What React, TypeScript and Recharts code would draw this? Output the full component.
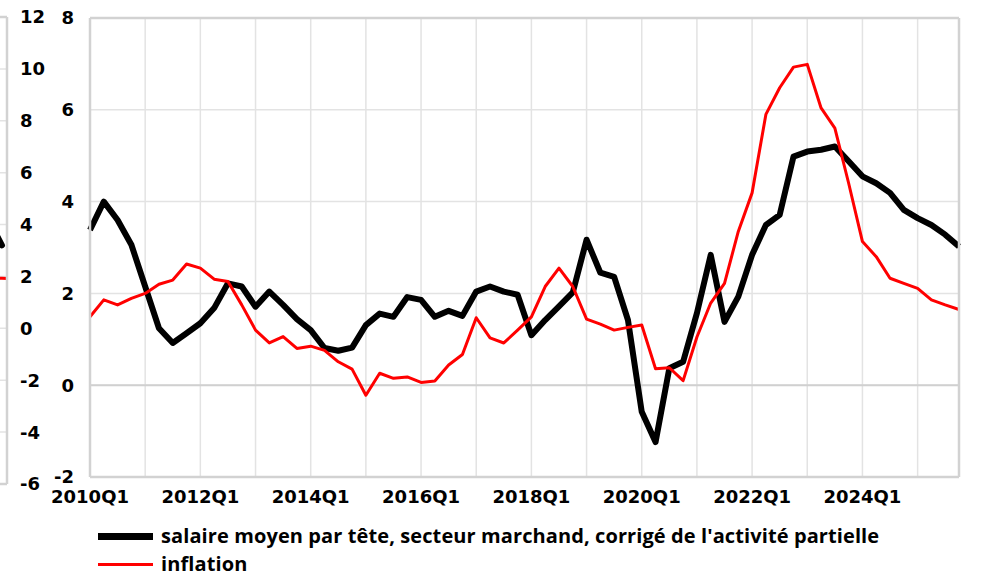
import { LineChart, Line, XAxis, YAxis, CartesianGrid, ReferenceLine } from 'recharts'

// quarters 2010Q1 .. 2025Q4
const quarters: string[] = []
for (let y = 2010; y <= 2025; y++) {
  for (let q = 1; q <= 4; q++) quarters.push(`${y}Q${q}`)
}

const salaire = [
  3.38, 4.0, 3.6, 3.06, 2.15, 1.24, 0.92, 1.13, 1.35, 1.68, 2.22, 2.15, 1.71, 2.04, 1.75, 1.44,
  1.2, 0.81, 0.75, 0.82, 1.31, 1.56, 1.49, 1.92, 1.86, 1.49, 1.62, 1.51, 2.04, 2.15, 2.04, 1.97,
  1.09, 1.42, 1.72, 2.02, 3.17, 2.45, 2.36, 1.42, -0.58, -1.24, 0.37, 0.51, 1.57, 2.84, 1.38, 1.93,
  2.84, 3.49, 3.71, 4.98, 5.09, 5.13, 5.2, 4.88, 4.55, 4.4, 4.19, 3.82, 3.64, 3.49, 3.28, 3.02,
]

const inflation = [
  1.49, 1.86, 1.75, 1.89, 2.0, 2.2, 2.29, 2.64, 2.55, 2.31, 2.26, 1.75, 1.2, 0.92, 1.06, 0.8,
  0.85, 0.76, 0.51, 0.35, -0.22, 0.26, 0.15, 0.18, 0.06, 0.09, 0.44, 0.67, 1.47, 1.03, 0.92, 1.2,
  1.49, 2.15, 2.55, 2.15, 1.44, 1.33, 1.2, 1.26, 1.31, 0.36, 0.38, 0.1, 1.05, 1.79, 2.22, 3.35,
  4.19, 5.9, 6.48, 6.93, 6.99, 6.04, 5.6, 4.4, 3.13, 2.8, 2.33, 2.22, 2.11, 1.86, 1.75, 1.65,
]

const yTicks = [-2, 0, 2, 4, 6, 8]

// tail of the neighbouring chart, cut at the left edge of the picture
const prevPos = [0, 0.5, 0.875, 1]
const prevSalaire = [5.0, 4.3, 3.2, null]
const prevInflation = [1.95, 1.94, 1.93, 1.92]
const prevTicks = [-6, -4, -2, 0, 2, 4, 6, 8, 10, 12]

const data = quarters.map((q, i) => ({ q, salaire: salaire[i], inflation: inflation[i] }))
const prevData = prevPos.map((t, i) => ({ t, b: prevSalaire[i], r: prevInflation[i] }))

const GRID = '#e3e3e3'
const BORDER = '#d2d2d2'
const tickStyle = { fontFamily: 'DejaVu Sans', fontWeight: 'bold', fontSize: 18, fill: '#000' }

const xLabel = (v: string) => {
  const year = parseInt(v.slice(0, 4), 10)
  return v.endsWith('Q1') && year % 2 === 0 ? v : ''
}

export default function App() {
  return (
    <div style={{ position: 'absolute', left: 0, top: 0, width: 994, height: 576, overflow: 'hidden', background: '#fff' }}>
      <div style={{ position: 'absolute', left: -33, top: 0 }}>
        <LineChart width={95} height={500} data={prevData} margin={{ top: 17, right: 0, left: 0, bottom: 16 }}>
          <CartesianGrid vertical={false} stroke={GRID} strokeWidth={1.5} />
          <XAxis type="number" dataKey="t" domain={[0, 1]} hide />
          <YAxis
            orientation="right"
            width={55}
            domain={[-6, 12]}
            ticks={prevTicks}
            interval={0}
            tickSize={0}
            tickMargin={13}
            tick={{ ...tickStyle, textAnchor: 'start' }}
            axisLine={{ stroke: BORDER, strokeWidth: 2.5 }}
          />
          <ReferenceLine y={12} stroke={BORDER} strokeWidth={2.5} />
          <ReferenceLine y={-6} stroke={BORDER} strokeWidth={2.5} />
          <Line dataKey="r" stroke="#ff0000" strokeWidth={3} dot={false} isAnimationActive={false} />
          <Line dataKey="b" stroke="#000" strokeWidth={6} dot={false} strokeLinecap="round" isAnimationActive={false} />
        </LineChart>
      </div>

      <div style={{ position: 'absolute', left: 0, top: 0 }}>
        <LineChart width={994} height={520} data={data} margin={{ top: 18, right: 0, left: 0, bottom: 0 }}>
          <CartesianGrid yAxisId="left" stroke={GRID} strokeWidth={1.5} />
          <XAxis
            dataKey="q"
            interval={3}
            height={43}
            tickSize={0}
            tickMargin={13}
            tickFormatter={xLabel}
            tick={tickStyle}
            axisLine={{ stroke: BORDER, strokeWidth: 2.5 }}
          />
          <YAxis
            yAxisId="left"
            width={90}
            domain={[-2, 8]}
            ticks={yTicks}
            interval={0}
            tickSize={0}
            tickMargin={16}
            tick={tickStyle}
            axisLine={{ stroke: BORDER, strokeWidth: 2.5 }}
          />
          <YAxis
            yAxisId="right"
            orientation="right"
            width={35}
            domain={[-2, 8]}
            ticks={yTicks}
            interval={0}
            tickSize={0}
            tickMargin={14}
            tick={{ ...tickStyle, textAnchor: 'start' }}
            axisLine={{ stroke: BORDER, strokeWidth: 2.5 }}
          />
          <ReferenceLine yAxisId="left" y={0} stroke="#d0d0d0" strokeWidth={2} />
          <ReferenceLine yAxisId="left" y={8} stroke={BORDER} strokeWidth={2.5} />
          <Line
            yAxisId="left"
            dataKey="salaire"
            stroke="#000"
            strokeWidth={6}
            dot={false}
            strokeLinejoin="round"
            isAnimationActive={false}
          />
          <Line
            yAxisId="left"
            dataKey="inflation"
            stroke="#ff0000"
            strokeWidth={3}
            dot={false}
            strokeLinejoin="round"
            isAnimationActive={false}
          />
        </LineChart>
      </div>

      <div style={{ position: 'absolute', left: 98, top: 525, fontFamily: 'Open Sans', fontWeight: 'bold', fontSize: 20, letterSpacing: 0.1, color: '#000', lineHeight: '18px' }}>
        <div style={{ display: 'flex', alignItems: 'center', height: 22 }}>
          <span style={{ display: 'inline-block', width: 55, height: 7, background: '#000', marginRight: 8 }} />
          <span>salaire moyen par tête, secteur marchand, corrigé de l'activité partielle</span>
        </div>
        <div style={{ display: 'flex', alignItems: 'center', height: 22, marginTop: 6 }}>
          <span style={{ display: 'inline-block', width: 55, height: 3, background: '#ff0000', marginRight: 8 }} />
          <span>inflation</span>
        </div>
      </div>
    </div>
  )
}
